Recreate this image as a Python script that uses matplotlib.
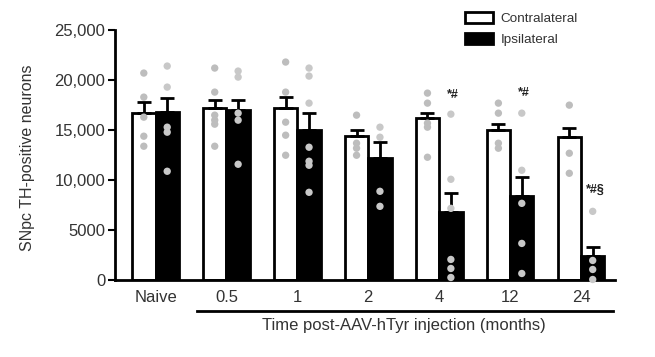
import numpy as np
import matplotlib
matplotlib.use('Agg')
import matplotlib.pyplot as plt
from matplotlib.patches import Patch

plt.rcParams['font.family'] = ['Liberation Sans', 'DejaVu Sans']

groups = ['Naive', '0.5', '1', '2', '4', '12', '24']
contra_mean = [16700, 17200, 17200, 14400, 16200, 15000, 14300]
contra_sem = [1100, 800, 1100, 600, 500, 600, 900]
ipsi_mean = [16800, 17000, 15000, 12200, 6800, 8400, 2400]
ipsi_sem = [1400, 1000, 1700, 1600, 1900, 1900, 900]

contra_pts = [
    [20700, 18300, 16300, 14400, 13400],
    [21200, 18800, 16500, 16000, 15600, 13400],
    [21800, 18800, 15800, 14500, 12500],
    [16500, 13700, 13200, 12500],
    [18700, 17700, 15700, 15300, 12300],
    [17700, 16700, 13700, 13200],
    [17500, 12700, 10700],
]
ipsi_pts = [
    [21400, 19300, 15300, 14800, 10900],
    [20900, 20300, 16700, 16000, 11600],
    [21200, 20400, 17700, 13300, 11900, 11500, 8800],
    [15300, 14300, 8900, 7400],
    [16600, 10100, 7200, 2100, 1200, 300],
    [16700, 11000, 7700, 3700, 700],
    [6900, 2000, 1100, 100],
]
marks = {4: '*#', 5: '*#', 6: '*#§'}
mark_y = {4: 18500, 5: 18700, 6: 9000}

txt = '#333333'
fig = plt.figure(figsize=(6.55, 3.57), dpi=100)
ax = fig.add_axes([0.1756, 0.2143, 0.7634, 0.7017])

x = np.arange(len(groups))
w = 0.33
xc = x - w / 2
xi = x + w / 2
ax.bar(xc, contra_mean, width=w, color='white', edgecolor='black', linewidth=2, zorder=2)
ax.bar(xi, ipsi_mean, width=w, color='black', edgecolor='black', linewidth=2, zorder=2)
ax.errorbar(xc, contra_mean, yerr=[np.zeros(7), contra_sem], fmt='none', ecolor='black',
            elinewidth=2, capsize=5, capthick=2, zorder=3)
ax.errorbar(xi, ipsi_mean, yerr=[np.zeros(7), ipsi_sem], fmt='none', ecolor='black',
            elinewidth=2, capsize=5, capthick=2, zorder=3)

for i in range(len(groups)):
    ax.scatter([xc[i]] * len(contra_pts[i]), contra_pts[i], s=28, color='#bdbdbd',
               edgecolor='none', zorder=4, clip_on=False)
    ax.scatter([xi[i]] * len(ipsi_pts[i]), ipsi_pts[i], s=28, color='#c8c8c8',
               edgecolor='none', zorder=4, clip_on=False)

for i, m in marks.items():
    ax.text(xi[i] + 0.03, mark_y[i], m, ha='center', va='center', fontsize=9,
            fontweight='bold', color='#222222')

ax.set_xlim(-0.571, 6.48)
ax.set_ylim(0, 25000)
ax.set_yticks([0, 5000, 10000, 15000, 20000, 25000])
ax.set_yticklabels(['0', '5000', '10,000', '15,000', '20,000', '25,000'])
ax.set_xticks(x)
ax.set_xticklabels(groups)
ax.tick_params(axis='x', length=0, pad=7, labelsize=12, labelcolor=txt)
ax.tick_params(axis='y', length=5, width=1.5, pad=2, labelsize=12, labelcolor=txt)
for s in ['top', 'right']:
    ax.spines[s].set_visible(False)
ax.spines['left'].set_linewidth(2)
ax.spines['bottom'].set_linewidth(2)
ax.set_ylabel('SNpc TH-positive neurons', fontsize=11.5, color=txt)
ax.yaxis.set_label_coords(-0.16, 0.49)

ax.plot([0.164, 0.996], [-0.122, -0.122], transform=ax.transAxes, color='black',
        linewidth=2, clip_on=False)
ax.text(0.578, -0.18, 'Time post-AAV-hTyr injection (months)', transform=ax.transAxes,
        ha='center', va='center', fontsize=12, color=txt)

handles = [Patch(facecolor='white', edgecolor='black', linewidth=2, label='Contralateral'),
           Patch(facecolor='black', edgecolor='black', linewidth=2, label='Ipsilateral')]
fig.legend(handles=handles, loc='upper left', bbox_to_anchor=(0.71, 0.966), frameon=False,
           fontsize=9.7, handlelength=2.05, handleheight=0.9, handletextpad=0.6,
           labelspacing=0.55, labelcolor=txt, borderpad=0, borderaxespad=0)

fig.savefig('out.png', dpi=100)
